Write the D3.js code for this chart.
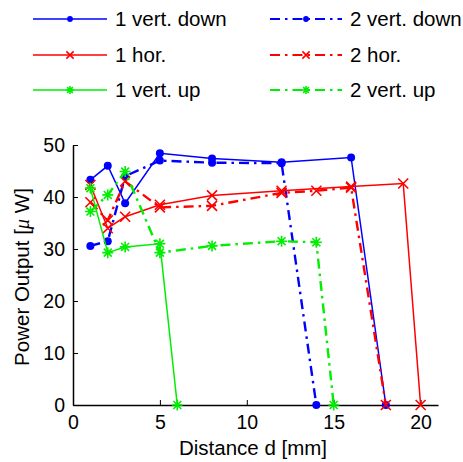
<!DOCTYPE html>
<html><head><meta charset="utf-8">
<script src="https://cdn.jsdelivr.net/npm/d3@7"></script>
<style>body{margin:0;background:#fff}svg{display:block;font-family:"Liberation Sans",Arial,sans-serif}</style>
</head><body><svg id="c" width="463" height="462"></svg>
<script>
const xTicks = [0,5,10,15,20];
const yTicks = [0,10,20,30,40,50];
const seriesNames = ["1 vert. down","2 vert. down","1 hor.","2 hor.","1 vert. up","2 vert. up"];
const seriesColors = ["#0000ff","#0000ff","#ff0000","#ff0000","#00ee00","#00ee00"];
const seriesDash = [false,true,false,true,false,true];
const seriesMarker = ["dot","dot","x","x","star","star"];
const vertDown1 = [[1,43.3],[2,46],[3,38.8],[5,48.4],[8,47.4],[12,46.7],[16,47.6],[18,0]];
const vertDown2 = [[1,30.6],[2,31.5],[3,44],[5,47],[8,46.6],[12,46.5],[14,0]];
const hor1 = [[1,42.3],[2,34],[3,36.2],[5,38.5],[8,40.3],[12,41.2],[16,42],[19,42.6],[20,0]];
const hor2 = [[1,39],[2,35.5],[3,43],[5,38],[8,38.3],[12,40.8],[14,41.2],[16,41.8],[18,0]];
const vertUp1 = [[1,41.7],[2,29.3],[3,30.4],[5,31],[6,0]];
const vertUp2 = [[1,37.2],[2,40.4],[3,44.9],[5,29.3],[8,30.6],[12,31.5],[14,31.3],[15,0]];
const seriesData = [vertDown1,vertDown2,hor1,hor2,vertUp1,vertUp2];

const svg = d3.select("#c");
const x = d3.scaleLinear().domain([0,21]).range([73,438]);
const y = d3.scaleLinear().domain([0,50]).range([405,145]);

// axes
const gx = svg.append("g").attr("transform","translate(0,405)")
  .call(d3.axisBottom(x).tickValues(xTicks).tickSizeInner(-5).tickSizeOuter(0).tickPadding(8));
const gy = svg.append("g").attr("transform","translate(73,0)")
  .call(d3.axisLeft(y).tickValues(yTicks).tickSizeInner(-5).tickSizeOuter(0).tickPadding(8));
[gx,gy].forEach(g=>{
  g.select(".domain").attr("stroke","#000").attr("stroke-width",1.5);
  g.selectAll(".tick line").attr("stroke","#000").attr("stroke-width",1);
  g.selectAll(".tick text").attr("font-size",19.5).attr("fill","#000").attr("font-family","Liberation Sans, Arial, sans-serif");
});
gx.selectAll(".tick text").attr("dy","0.8em");

svg.append("text").attr("x",253).attr("y",455).attr("text-anchor","middle")
  .attr("font-size",20.5).text("Distance d [mm]");
const yl = svg.append("text").attr("transform","translate(29,277) rotate(-90)").attr("text-anchor","middle")
  .attr("font-size",20.5);
yl.append("tspan").text("Power Output [");
yl.append("tspan").attr("font-style","italic").attr("font-family","Liberation Serif, serif").text("μ");
yl.append("tspan").text(" W]");

const line = d3.line().x(d=>x(d[0])).y(d=>y(d[1]));

function marker(g, type, cx, cy, color, s){
  if(type==="dot"){
    g.append("circle").attr("cx",cx).attr("cy",cy).attr("r",s*0.8).attr("fill",color);
  } else if(type==="x"){
    g.append("path").attr("d",`M${cx-s},${cy-s}L${cx+s},${cy+s}M${cx-s},${cy+s}L${cx+s},${cy-s}`)
      .attr("stroke",color).attr("stroke-width",1.6).attr("fill","none");
  } else {
    const r=s*1.1, d=r*0.72;
    g.append("path").attr("d",`M${cx-r},${cy}L${cx+r},${cy}M${cx},${cy-r}L${cx},${cy+r}M${cx-d},${cy-d}L${cx+d},${cy+d}M${cx-d},${cy+d}L${cx+d},${cy-d}`)
      .attr("stroke",color).attr("stroke-width",1.6).attr("fill","none");
  }
}

const plot = svg.append("g");
seriesData.forEach((data,i)=>{
  const g = plot.append("g");
  g.append("path").datum(data).attr("d",line).attr("fill","none")
    .attr("stroke",seriesColors[i]).attr("stroke-width",seriesDash[i]?2.4:1.5)
    .attr("stroke-dasharray",seriesDash[i]?"10,5,2.5,5":null);
  data.forEach(d=>marker(g,seriesMarker[i],x(d[0]),y(d[1]),seriesColors[i],5));
});

// legend
const legRows = [19,55,90];
const legCols = [{x0:33,x1:107,tx:115},{x0:270,x1:342,tx:350}];
seriesNames.forEach((name,i)=>{
  const col = legCols[i%2], row = legRows[Math.floor(i/2)];
  const g = svg.append("g");
  g.append("line").attr("x1",col.x0).attr("x2",col.x1).attr("y1",row).attr("y2",row)
    .attr("stroke",seriesColors[i]).attr("stroke-width",seriesDash[i]?2:1.5)
    .attr("stroke-dasharray",seriesDash[i]?"10,5,2.5,5":null);
  marker(g,seriesMarker[i],(col.x0+col.x1)/2,row,seriesColors[i],3.6);
  g.append("text").attr("x",col.tx).attr("y",row).attr("dy","0.35em").attr("font-size",20.5).text(name);
});
</script></body></html>
